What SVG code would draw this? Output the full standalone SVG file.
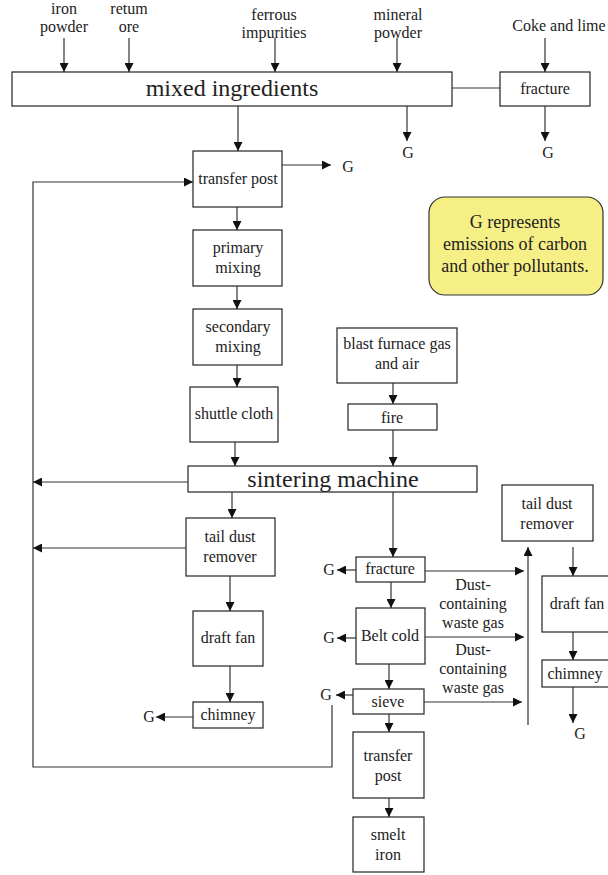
<svg xmlns="http://www.w3.org/2000/svg" width="608" height="875" viewBox="0 0 608 875">
  <defs>
    <marker id="ah" viewBox="0 0 10 10" refX="10" refY="5" markerWidth="9" markerHeight="9" markerUnits="userSpaceOnUse" orient="auto">
      <path d="M0,0 L10,5 L0,10 z" fill="#111"/>
    </marker>
    <style>
      .box { fill: #fff; stroke: #222; stroke-width: 1.2; }
      .ln { fill: none; stroke: #333; stroke-width: 1.2; }
      .arr { fill: none; stroke: #333; stroke-width: 1.2; marker-end: url(#ah); }
      text { font-family: "Liberation Serif", "Times New Roman", serif; fill: #222; text-anchor: middle; }
      .t { font-size: 16px; }
      .big { font-size: 24px; }
      .leg { font-size: 18px; }
    </style>
  </defs>

  <!-- raw material labels -->
  <g id="inputs">
    <text class="t" x="64" y="14">iron</text>
    <text class="t" x="64" y="32">powder</text>
    <text class="t" x="129" y="14">retum</text>
    <text class="t" x="129" y="32">ore</text>
    <text class="t" x="274" y="20">ferrous</text>
    <text class="t" x="274" y="38">impurities</text>
    <text class="t" x="398" y="20">mineral</text>
    <text class="t" x="398" y="38">powder</text>
    <text class="t" x="559" y="31">Coke and lime</text>
  </g>

  <g id="mixed-ingredients">
    <rect class="box" x="12" y="72" width="440" height="34"/>
    <text class="big" x="232" y="96">mixed ingredients</text>
  </g>
  <g id="fracture-top">
    <rect class="box" x="500" y="72" width="90" height="34"/>
    <text class="t" x="545" y="94">fracture</text>
  </g>
  <g id="transfer-post-1">
    <rect class="box" x="193" y="151" width="89" height="56"/>
    <text class="t" x="238" y="184">transfer post</text>
  </g>
  <g id="primary-mixing">
    <rect class="box" x="193" y="230" width="89" height="56"/>
    <text class="t" x="238" y="253">primary</text>
    <text class="t" x="238" y="273">mixing</text>
  </g>
  <g id="secondary-mixing">
    <rect class="box" x="193" y="309" width="89" height="56"/>
    <text class="t" x="238" y="332">secondary</text>
    <text class="t" x="238" y="352">mixing</text>
  </g>
  <g id="shuttle-cloth">
    <rect class="box" x="190" y="387" width="88" height="55"/>
    <text class="t" x="234" y="419">shuttle cloth</text>
  </g>
  <g id="blast-furnace-gas">
    <rect class="box" x="337" y="328" width="120" height="55"/>
    <text class="t" x="397" y="349">blast furnace gas</text>
    <text class="t" x="397" y="369">and air</text>
  </g>
  <g id="fire">
    <rect class="box" x="348" y="404" width="89" height="26"/>
    <text class="t" x="392" y="423">fire</text>
  </g>
  <g id="sintering-machine">
    <rect class="box" x="188" y="466" width="289" height="26"/>
    <text class="big" x="333" y="487">sintering machine</text>
  </g>
  <g id="tail-dust-remover-1">
    <rect class="box" x="186" y="518" width="89" height="58"/>
    <text class="t" x="230" y="542">tail dust</text>
    <text class="t" x="230" y="562">remover</text>
  </g>
  <g id="draft-fan-1">
    <rect class="box" x="193" y="611" width="70" height="55"/>
    <text class="t" x="228" y="643">draft fan</text>
  </g>
  <g id="chimney-1">
    <rect class="box" x="193" y="702" width="70" height="26"/>
    <text class="t" x="228" y="720">chimney</text>
  </g>
  <g id="fracture-2">
    <rect class="box" x="356" y="557" width="69" height="25"/>
    <text class="t" x="390" y="574">fracture</text>
  </g>
  <g id="belt-cold">
    <rect class="box" x="356" y="608" width="69" height="56"/>
    <text class="t" x="390" y="641">Belt cold</text>
  </g>
  <g id="sieve">
    <rect class="box" x="353" y="689" width="71" height="25"/>
    <text class="t" x="388" y="707">sieve</text>
  </g>
  <g id="transfer-post-2">
    <rect class="box" x="353" y="732" width="71" height="66"/>
    <text class="t" x="388" y="761">transfer</text>
    <text class="t" x="388" y="781">post</text>
  </g>
  <g id="smelt-iron">
    <rect class="box" x="353" y="817" width="71" height="55"/>
    <text class="t" x="388" y="840">smelt</text>
    <text class="t" x="388" y="860">iron</text>
  </g>
  <g id="tail-dust-remover-2">
    <rect class="box" x="502" y="485" width="91" height="56"/>
    <text class="t" x="547" y="509">tail dust</text>
    <text class="t" x="547" y="529">remover</text>
  </g>
  <g id="draft-fan-2">
    <rect class="box" x="542" y="576" width="72" height="56"/>
    <text class="t" x="577" y="609">draft fan</text>
  </g>
  <g id="chimney-2">
    <rect class="box" x="542" y="660" width="72" height="27"/>
    <text class="t" x="575" y="679">chimney</text>
  </g>

  <g id="legend">
    <rect x="429" y="197" width="174" height="98" rx="16" ry="16" fill="#f6ef86" stroke="#333" stroke-width="1.2"/>
    <text class="leg" x="515" y="228">G represents</text>
    <text class="leg" x="515" y="250">emissions of carbon</text>
    <text class="leg" x="515" y="272">and other pollutants.</text>
  </g>

  <!-- emission labels -->
  <g id="emissions">
    <text class="t" x="408" y="158">G</text>
    <text class="t" x="548" y="158">G</text>
    <text class="t" x="348" y="172">G</text>
    <text class="t" x="149" y="722">G</text>
    <text class="t" x="329" y="575">G</text>
    <text class="t" x="329" y="643">G</text>
    <text class="t" x="326" y="700">G</text>
    <text class="t" x="580" y="739">G</text>
  </g>
  <g id="gas-labels">
    <text class="t" x="473" y="590">Dust-</text>
    <text class="t" x="473" y="609">containing</text>
    <text class="t" x="473" y="628">waste gas</text>
    <text class="t" x="473" y="655">Dust-</text>
    <text class="t" x="473" y="674">containing</text>
    <text class="t" x="473" y="693">waste gas</text>
  </g>

  <g id="connectors">
    <line class="arr" x1="64" y1="38" x2="64" y2="72"/>
    <line class="arr" x1="129" y1="38" x2="129" y2="72"/>
    <line class="arr" x1="275" y1="38" x2="275" y2="72"/>
    <line class="arr" x1="397" y1="38" x2="397" y2="72"/>
    <line class="arr" x1="545" y1="38" x2="545" y2="72"/>
    <line class="ln" x1="452" y1="88" x2="500" y2="88"/>
    <line class="arr" x1="238" y1="106" x2="238" y2="151"/>
    <line class="arr" x1="407" y1="106" x2="407" y2="141"/>
    <line class="arr" x1="545" y1="106" x2="545" y2="141"/>
    <line class="arr" x1="282" y1="165" x2="331" y2="165"/>
    <line class="arr" x1="237" y1="207" x2="237" y2="230"/>
    <line class="arr" x1="237" y1="286" x2="237" y2="309"/>
    <line class="arr" x1="237" y1="365" x2="237" y2="387"/>
    <line class="arr" x1="235" y1="442" x2="235" y2="466"/>
    <line class="arr" x1="393" y1="383" x2="393" y2="404"/>
    <line class="arr" x1="393" y1="430" x2="393" y2="466"/>
    <!-- recycle loop back to the first transfer post -->
    <polyline class="arr" points="332,705 332,767 33,767 33,182 193,182"/>
    <line class="arr" x1="188" y1="482" x2="33" y2="482"/>
    <line class="arr" x1="186" y1="548" x2="33" y2="548"/>
    <line class="arr" x1="232" y1="492" x2="232" y2="518"/>
    <line class="arr" x1="230" y1="576" x2="230" y2="611"/>
    <line class="arr" x1="230" y1="666" x2="230" y2="702"/>
    <line class="arr" x1="193" y1="717" x2="156" y2="717"/>
    <!-- right branch -->
    <line class="arr" x1="393" y1="492" x2="393" y2="557"/>
    <line class="arr" x1="391" y1="582" x2="391" y2="608"/>
    <line class="arr" x1="389" y1="664" x2="389" y2="689"/>
    <line class="arr" x1="389" y1="714" x2="389" y2="732"/>
    <line class="arr" x1="389" y1="798" x2="389" y2="817"/>
    <line class="arr" x1="356" y1="570" x2="337" y2="570"/>
    <line class="arr" x1="356" y1="638" x2="337" y2="638"/>
    <line class="arr" x1="353" y1="695" x2="336" y2="695"/>
    <line class="arr" x1="425" y1="571" x2="524" y2="571"/>
    <line class="arr" x1="425" y1="637" x2="524" y2="637"/>
    <line class="arr" x1="424" y1="702" x2="522" y2="702"/>
    <line class="arr" x1="528" y1="725" x2="528" y2="547"/>
    <line class="arr" x1="573" y1="547" x2="573" y2="576"/>
    <line class="arr" x1="573" y1="632" x2="573" y2="660"/>
    <line class="arr" x1="573" y1="687" x2="573" y2="723"/>
  </g>
</svg>
